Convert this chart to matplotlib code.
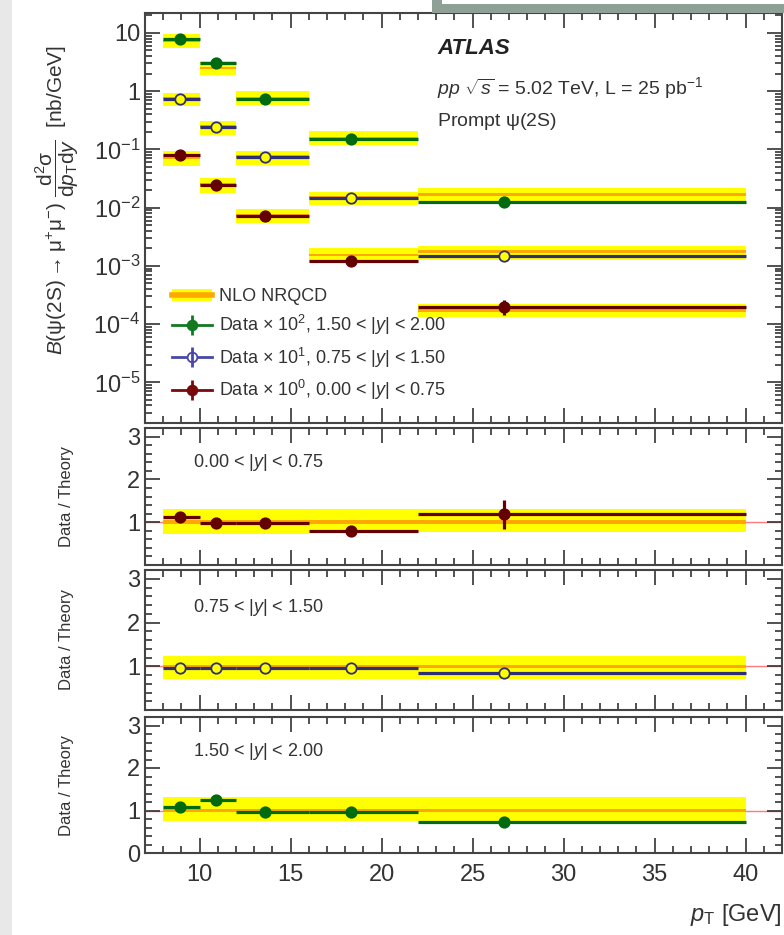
import matplotlib
matplotlib.use('Agg')
import matplotlib.pyplot as plt
import numpy as np
from matplotlib.patches import Rectangle
from matplotlib.lines import Line2D
from matplotlib.ticker import MultipleLocator, LogLocator, NullFormatter, FuncFormatter, FixedLocator

plt.rcParams['font.family'] = ['Liberation Sans', 'DejaVu Sans']
plt.rcParams['mathtext.fontset'] = 'custom'
plt.rcParams['mathtext.rm'] = 'Liberation Sans'
plt.rcParams['mathtext.it'] = 'Liberation Sans:italic'
plt.rcParams['mathtext.bf'] = 'Liberation Sans:bold'
plt.rcParams['mathtext.sf'] = 'Liberation Sans'

# ---------------- data ----------------
bin_lo = [8, 10, 12, 16, 22]
bin_hi = [10, 12, 16, 22, 40]
pt_center = [8.9, 10.9, 13.6, 18.3, 26.7]

# cross sections (nb/GeV), unscaled
xs_y0 = [0.081, 0.0243, 0.0072, 0.00121, 0.00020]        # 0.00<|y|<0.75
xs_y1 = [0.074, 0.024, 0.0074, 0.00146, 0.00015]         # 0.75<|y|<1.50
xs_y2 = [0.079, 0.031, 0.0074, 0.0015, 0.000125]         # 1.50<|y|<2.00
scales = [1e0, 1e1, 1e2]

# data / theory ratios
ratio_y0 = [1.13, 0.98, 0.98, 0.79, 1.18]
ratio_y1 = [0.97, 0.97, 0.97, 0.96, 0.85]
ratio_y2 = [1.08, 1.25, 0.96, 0.96, 0.74]

# relative data uncertainties
err_y0 = [0.08, 0.05, 0.05, 0.06, 0.28]
err_y1 = [0.06, 0.04, 0.04, 0.05, 0.10]
err_y2 = [0.06, 0.06, 0.05, 0.06, 0.12]

# relative theory uncertainty band (low, high)
th_lo_y0 = [0.73, 0.73, 0.73, 0.75, 0.77]
th_hi_y0 = [1.31, 1.31, 1.31, 1.30, 1.31]
th_lo_y1 = [0.72, 0.72, 0.72, 0.72, 0.72]
th_hi_y1 = [1.24, 1.24, 1.24, 1.24, 1.24]
th_lo_y2 = [0.76, 0.76, 0.76, 0.76, 0.76]
th_hi_y2 = [1.31, 1.31, 1.31, 1.31, 1.31]

x_ticks = [10, 15, 20, 25, 30, 35, 40]
top_y_ticks = [1e-5, 1e-4, 1e-3, 1e-2, 1e-1, 1, 10]

range_labels = [r"0.00 < $|y|$ < 0.75", r"0.75 < $|y|$ < 1.50", r"1.50 < $|y|$ < 2.00"]
legend_labels = [r"Data $\times$ 10$^{0}$, 0.00 < $|y|$ < 0.75",
                 r"Data $\times$ 10$^{1}$, 0.75 < $|y|$ < 1.50",
                 r"Data $\times$ 10$^{2}$, 1.50 < $|y|$ < 2.00"]

colors = ['#650000', '#2e2e78', '#006a10']
leg_colors = ['#7a0a0a', '#4848a8', '#107a20']
YELLOW = '#ffff00'
ORANGE = '#ffa800'

series = [
    (xs_y0, ratio_y0, err_y0, th_lo_y0, th_hi_y0),
    (xs_y1, ratio_y1, err_y1, th_lo_y1, th_hi_y1),
    (xs_y2, ratio_y2, err_y2, th_lo_y2, th_hi_y2),
]

W, H = 784, 935
fig = plt.figure(figsize=(W / 100, H / 100), dpi=100)

def fy(px):
    return 1 - px / H

L, R = 145, 782
ax0 = fig.add_axes([L / W, fy(423), (R - L) / W, 410 / H])
rpos = [(428, 565), (570, 710), (717, 853)]
raxes = [fig.add_axes([L / W, fy(b), (R - L) / W, (b - t) / H]) for t, b in rpos]

x = np.array(pt_center)
xlo = x - np.array(bin_lo)
xhi = np.array(bin_hi) - x

MS = 7.5
ELW = 2.3

# ---------------- top panel ----------------
for k, (xs, rat, err, tlo, thi) in enumerate(series):
    y = np.array(xs) * scales[k]
    th = y / np.array(rat)
    for i in range(len(x)):
        ax0.fill_between([bin_lo[i], bin_hi[i]], th[i] * tlo[i], th[i] * thi[i],
                         color=YELLOW, lw=0, zorder=1)
        ax0.fill_between([bin_lo[i], bin_hi[i]], th[i] * 0.95, th[i] * 1.05,
                         color=ORANGE, lw=0, zorder=2)
    mfc = colors[k] if k != 1 else YELLOW
    ax0.errorbar(x, y, xerr=[xlo, xhi], yerr=y * np.array(err), fmt='o',
                 color=colors[k], mfc=mfc, mec=colors[k], ms=MS, mew=1.3,
                 elinewidth=ELW, capsize=0, zorder=3)

ax0.set_yscale('log')
ax0.set_ylim(2e-6, 22)

def logfmt(v, pos):
    n = int(round(np.log10(v)))
    if n == 1:
        return '10'
    if n == 0:
        return '1'
    return r'10$^{%d}$' % n

ax0.yaxis.set_major_locator(FixedLocator(top_y_ticks))
ax0.yaxis.set_minor_locator(LogLocator(base=10, subs=np.arange(2, 10), numticks=200))
ax0.yaxis.set_major_formatter(FuncFormatter(logfmt))
ax0.yaxis.set_minor_formatter(NullFormatter())

# ---------------- ratio panels ----------------
for k, ax in enumerate(raxes):
    xs, rat, err, tlo, thi = series[k]
    ax.axhline(1, color='#ff7a7a', lw=1, zorder=0.5)
    for i in range(len(x)):
        ax.fill_between([bin_lo[i], bin_hi[i]], tlo[i], thi[i], color=YELLOW, lw=0, zorder=1)
        ax.fill_between([bin_lo[i], bin_hi[i]], 0.96, 1.04, color=ORANGE, lw=0, zorder=2)
    r = np.array(rat)
    mfc = colors[k] if k != 1 else YELLOW
    ax.errorbar(x, r, xerr=[xlo, xhi], yerr=r * np.array(err), fmt='o',
                color=colors[k], mfc=mfc, mec=colors[k], ms=MS, mew=1.3,
                elinewidth=ELW, capsize=0, zorder=3)
    ax.set_ylim(0, 3.2)
    if k < 2:
        ax.set_yticks([1, 2, 3])
    else:
        ax.set_yticks([0, 1, 2, 3])
    ax.yaxis.set_minor_locator(MultipleLocator(0.2))
    ax.yaxis.set_major_formatter(FuncFormatter(lambda v, p: '%d' % round(v)))
    fig.text(193 / W, fy([463, 608, 752][k]), range_labels[k],
             fontsize=13, color='#333333', va='center', ha='left')
    fig.text(67 / W, fy((rpos[k][0] + rpos[k][1]) / 2), 'Data / Theory', rotation=90,
             fontsize=12, color='#333333', ha='center', va='center')

for ax in [ax0] + raxes:
    ax.set_xlim(7, 42)
    ax.xaxis.set_major_locator(FixedLocator(x_ticks))
    ax.xaxis.set_minor_locator(MultipleLocator(1))
    ax.tick_params(which='both', direction='in', top=True, right=True,
                   labelsize=17, colors='#333333', width=1.2)
    ax.tick_params(which='major', length=11)
    ax.tick_params(which='minor', length=5)
    for s in ax.spines.values():
        s.set_color('#444444')
        s.set_linewidth(1.5)
    if ax is not raxes[-1]:
        ax.tick_params(labelbottom=False)

raxes[-1].tick_params(axis='x', pad=8)

# ---------------- legend ----------------
handles = [(Rectangle((0, 0), 1, 1, color=YELLOW, lw=0), Line2D([], [], color=ORANGE, lw=4))]
labels = ['NLO NRQCD']
for k in [2, 1, 0]:
    mfc = leg_colors[k] if k != 1 else 'white'
    h = (Line2D([], [], color=leg_colors[k], lw=2, marker='o', ms=7, mfc=mfc, mec=leg_colors[k], mew=1.3),
         Line2D([], [], ls='none', color=leg_colors[k], marker='|', ms=15, mew=2))
    handles.append(h)
    labels.append(legend_labels[k])
leg = ax0.legend(handles, labels, loc='upper left', bbox_to_anchor=(165 / W, fy(281)),
                 bbox_transform=fig.transFigure, frameon=False, fontsize=13,
                 handlelength=2.2, labelspacing=0.45, handletextpad=0.4, borderaxespad=0)
for t in leg.get_texts():
    t.set_color('#333333')

# ---------------- texts ----------------
fig.text(437 / W, fy(48), 'ATLAS', fontsize=16, weight='bold', style='italic',
         color='#222222', va='center')
fig.text(437 / W, fy(88), r'$pp$ $\sqrt{s}$ = 5.02 TeV, L = 25 pb$^{-1}$', fontsize=14,
         color='#333333', va='center')
fig.text(437 / W, fy(122), r'Prompt $\mathrm{\psi}$(2S)', fontsize=14, color='#333333', va='center')

fig.text(57 / W, fy(200),
         r'$B(\mathrm{\psi(2S)\rightarrow\mu^{+}\mu^{-}})\ \dfrac{\mathrm{d^{2}\sigma}}{\mathrm{d}p_{\mathrm{T}}\mathrm{d}y}$  [nb/GeV]',
         rotation=90, fontsize=15, color='#333333', ha='center', va='center')
fig.text(782 / W, fy(915), r'$p_{\mathrm{T}}$ [GeV]', fontsize=17, color='#333333',
         ha='right', va='center')

# ---------------- decorations (screenshot frame) ----------------
fig.add_artist(Rectangle((0, 0), 12 / W, 1, transform=fig.transFigure,
                         color='#e8e8e8', lw=0, zorder=-5))
fig.add_artist(Rectangle((432 / W, fy(13)), (W - 432) / W, 9 / H, transform=fig.transFigure,
                         color='#8fa096', lw=0, zorder=5))
fig.add_artist(Rectangle((432 / W, fy(13)), 10 / W, 13 / H, transform=fig.transFigure,
                         color='#8fa096', lw=0, zorder=5))

fig.savefig('out.png', dpi=100)
